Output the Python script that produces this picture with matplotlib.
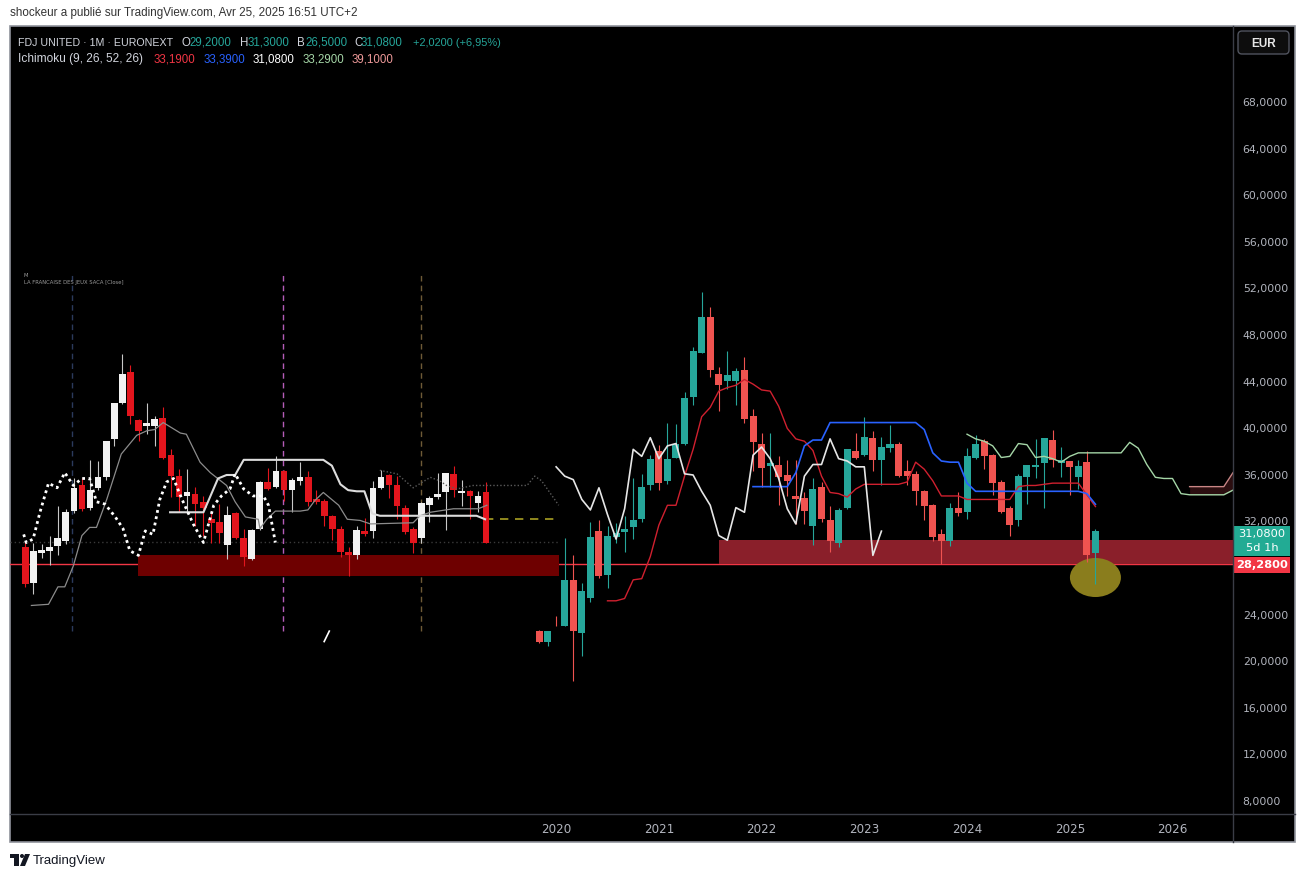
import numpy as np
import matplotlib.pyplot as plt
from matplotlib.patches import Rectangle, Ellipse, FancyBboxPatch, Polygon, Circle
from matplotlib.transforms import blended_transform_factory
from matplotlib.ticker import FuncFormatter

W, H = 1305, 879

# ---- FDJ UNITED monthly bars, month 0 = Nov 2019 ----
fdj_open = [22.5, 21.6, np.nan, 22.9, 26.9, 22.3, 25.3, 31.1, 27.3, 30.6,
            31.0, 31.4, 32.1, 35.0, 38.0, 35.4, 37.4, 38.6, 42.6, 46.4,
            49.5, 44.6, 44.0, 44.0, 44.9, 41.0, 38.6, 36.7, 36.8, 35.9,
            34.1, 33.9, 31.5, 34.9, 32.0, 30.1, 33.1, 38.0, 37.6, 39.1,
            37.2, 38.2, 38.6, 36.2, 36.0, 34.5, 33.3, 30.8, 30.2, 33.1,
            32.7, 37.4, 38.8, 37.6, 35.3, 33.1, 32.0, 35.7, 36.6, 36.9,
            38.9, 36.9, 37.1, 35.7, 37.0, 29.2]
fdj_high = [22.6, 22.5, 23.8, 30.5, 29.0, 26.6, 31.9, 32.0, 31.5, 31.8,
            32.4, 35.6, 36.0, 37.6, 38.5, 40.4, 40.3, 43.0, 46.9, 51.6,
            50.3, 45.2, 46.5, 45.1, 46.0, 41.6, 39.5, 39.5, 37.5, 37.2,
            37.2, 34.4, 35.6, 35.3, 33.2, 33.1, 38.1, 39.5, 40.9, 39.7,
            39.2, 40.2, 38.7, 37.2, 36.2, 34.6, 33.4, 31.3, 33.5, 34.4,
            38.2, 39.3, 39.0, 37.7, 35.5, 33.2, 36.0, 36.8, 39.0, 39.1,
            39.8, 38.3, 37.1, 37.2, 38.0, 31.3]
fdj_low = [21.5, 21.2, 22.9, 22.9, 18.2, 20.4, 25.0, 27.1, 26.2, 30.1,
           29.3, 30.4, 31.9, 34.6, 34.6, 35.1, 37.4, 38.5, 41.9, 46.4,
           44.3, 41.4, 43.3, 41.9, 40.4, 36.2, 34.9, 34.9, 33.3, 34.1,
           31.7, 31.7, 29.9, 31.9, 29.3, 29.7, 33.0, 37.3, 37.5, 36.2,
           35.0, 37.9, 35.7, 35.0, 33.3, 32.0, 30.2, 28.3, 29.8, 32.4,
           32.1, 37.3, 36.4, 34.2, 32.6, 30.7, 31.5, 33.4, 35.6, 33.1,
           36.6, 35.7, 34.2, 34.7, 28.4, 26.5]
fdj_close = [21.6, 22.5, np.nan, 26.9, 22.5, 25.9, 30.6, 27.2, 30.7, 30.9,
             31.3, 32.0, 34.9, 37.3, 35.2, 37.3, 38.6, 42.5, 46.5, 49.5,
             44.9, 43.6, 44.5, 44.8, 40.7, 38.7, 36.5, 36.9, 35.7, 35.4,
             33.8, 32.8, 34.7, 32.1, 30.2, 32.9, 38.1, 37.4, 39.2, 37.2,
             38.3, 38.6, 35.8, 35.8, 34.5, 33.2, 30.6, 30.2, 33.1, 32.6,
             37.5, 38.6, 37.5, 35.2, 32.7, 31.6, 35.8, 36.8, 36.8, 39.1,
             37.2, 37.2, 36.6, 36.7, 29.06, 31.08]

# ---- Ichimoku ----
conv_start = 8
conv_line = [25.1, 25.1, 25.3, 26.9, 27.0, 28.9, 31.6, 33.3, 33.3, 35.8,
             38.1, 40.9, 41.7, 43.1, 43.4, 43.6, 44.1, 43.7, 43.2, 43.1,
             41.8, 39.9, 39.0, 38.8, 38.0, 35.8, 34.4, 34.3, 34.0, 34.7,
             35.1, 35.1, 35.1, 35.1, 35.1, 35.3, 37.0, 36.4, 35.4, 34.1,
             34.1, 34.1, 33.8, 33.8, 33.8, 33.8, 33.8, 33.8, 34.9, 35.0,
             35.0, 35.1, 35.2, 35.2, 35.2, 35.2, 34.2, 33.19]
base_start = 25
base_line = [34.9, 34.9, 34.9, 34.9, 34.9, 36.1, 38.4, 38.9, 38.9, 40.4,
             40.4, 40.4, 40.4, 40.4, 40.4, 40.4, 40.4, 40.4, 40.4, 40.4,
             39.8, 37.8, 37.1, 37.0, 37.0, 35.2, 34.5, 34.5, 34.5, 34.5,
             34.5, 34.5, 34.5, 34.5, 34.5, 34.5, 34.5, 34.5, 34.5, 34.3,
             33.39]
lag_start = 2
lag_line = [36.6, 35.8, 35.5, 33.8, 32.9, 34.8, 32.5, 30.4, 33.0, 38.1,
            37.5, 39.1, 37.3, 38.4, 38.6, 36.0, 35.9, 34.5, 33.3, 30.7,
            30.3, 33.1, 32.7, 37.6, 38.3, 37.3, 35.6, 33.0, 31.7, 35.8,
            36.8, 36.8, 39.0, 37.3, 37.1, 36.6, 36.6, 29.0, 31.08]
span_a_m = [50, 51, 52, 53, 54, 55, 56, 57, 58, 59, 60, 61, 62, 63, 68,
            69, 70, 71, 72, 73, 74, 75, 76, 80, 81.07]
span_a = [39.4, 39.0, 38.8, 38.4, 37.4, 37.5, 38.6, 38.5, 37.4, 37.5, 37.3,
          37.0, 37.5, 37.8, 37.8, 38.7, 38.2, 36.8, 35.7, 35.6, 35.6, 34.3,
          34.2, 34.2, 34.6]
span_b_m = [76, 80, 81.07]
span_b = [34.9, 34.9, 36.1]
span_a_under_b = [34.2, 34.2, 34.6]

# ---- "LA FRANCAISE DES JEUX SACA" bars pattern on the left ----
pat_open = [29.7, 26.6, 29.2, 29.4, 29.8, 30.2, 32.8, 35.0, 33.1, 34.8,
            35.7, 39.0, 42.1, 44.7, 40.6, 40.1, 40.1, 40.8, 37.6, 35.8,
            34.1, 34.3, 33.6, 32.1, 31.9, 29.9, 32.6, 30.5, 28.7, 31.3,
            35.3, 34.9, 36.2, 34.6, 35.4, 35.7, 33.8, 33.7, 32.4, 31.3,
            29.3, 29.0, 31.1, 31.1, 34.8, 35.9, 35.0, 33.1, 31.3, 30.5,
            33.3, 34.0, 34.4, 36.0, 34.35, 34.5, 33.5, 34.4]
pat_high = [30.2, 30.1, 30.0, 30.7, 33.2, 33.0, 35.6, 35.6, 37.2, 37.1,
            38.8, 42.1, 46.3, 45.3, 40.7, 42.1, 41.0, 41.7, 38.1, 36.4,
            36.4, 34.9, 34.1, 32.7, 33.4, 33.2, 32.7, 31.3, 31.3, 35.4,
            36.5, 37.5, 36.3, 35.6, 37.0, 36.2, 34.6, 33.8, 32.5, 31.5,
            29.7, 31.5, 32.2, 35.4, 36.3, 36.0, 35.8, 33.3, 31.4, 33.6,
            34.1, 36.1, 36.1, 36.7, 35.5, 34.6, 34.5, 35.3]
pat_low = [26.3, 25.7, 28.8, 28.2, 29.0, 30.0, 32.6, 32.8, 32.9, 34.6,
           35.5, 38.4, 42.0, 40.3, 38.8, 39.4, 38.4, 37.3, 34.0, 32.7,
           32.7, 31.5, 30.7, 30.1, 30.1, 28.7, 30.4, 28.1, 28.6, 31.2,
           34.6, 34.8, 33.7, 32.7, 35.0, 33.2, 33.4, 31.5, 30.3, 28.9,
           27.2, 28.7, 30.7, 30.5, 34.7, 33.9, 32.1, 30.8, 29.2, 30.1,
           31.9, 33.8, 31.2, 34.0, 33.2, 32.1, 32.7, 30.1]
pat_close = [26.5, 29.4, 29.5, 29.7, 30.5, 32.7, 34.8, 33.0, 34.6, 35.7,
             38.8, 42.1, 44.6, 41.0, 39.7, 40.4, 40.7, 37.4, 35.8, 34.0,
             34.4, 33.4, 33.1, 31.8, 30.9, 32.5, 30.5, 28.9, 31.2, 35.3,
             34.7, 36.2, 34.6, 35.5, 35.7, 33.6, 33.6, 32.4, 31.3, 29.3,
             29.0, 31.2, 30.8, 34.8, 35.7, 35.0, 33.2, 31.0, 30.1, 33.5,
             33.9, 34.3, 36.1, 34.6, 34.45, 34.1, 34.1, 30.1]

# lines drawn over the pattern (month, price)
gray_m = [-59.3, -57.3, -56.2, -55.4, -54.4, -53.4, -52.5, -51.7, -50.5, -48.8,
          -47.0, -45.8, -44.9, -43.9, -41.9, -41.2, -39.6, -38.4, -36.5, -35.5,
          -34.3, -32.8, -32.6, -31.8, -30.8, -27.9, -27.0, -26.2, -25.2, -23.4,
          -22.4, -20.9, -19.7, -14.7, -13.9, -12.7, -10.0, -7.1, -6.1]
gray_p = [24.7, 24.8, 26.3, 26.3, 28.1, 30.7, 31.4, 31.4, 33.8, 37.7,
          39.3, 39.7, 39.8, 40.4, 39.5, 39.4, 37.0, 36.1, 35.0, 33.6,
          32.3, 32.1, 31.3, 32.1, 32.8, 32.8, 32.9, 33.7, 34.4, 33.3,
          32.1, 32.0, 31.7, 31.8, 32.4, 32.7, 33.0, 33.0, 33.3]
dots_m = [-60.2, -59.9, -59.1, -58.3, -57.3, -56.3, -55.4, -54.4, -53.4, -52.5,
          -51.7, -50.7, -49.5, -48.6, -47.8, -46.8, -46.0, -45.1, -44.3, -43.5,
          -42.7, -41.7, -40.4, -39.2, -38.0, -37.1, -36.1, -35.5, -34.5, -33.4,
          -32.2, -31.6, -30.8]
dots_p = [30.8, 30.1, 30.4, 32.7, 35.2, 34.8, 36.1, 35.0, 35.6, 35.6,
          33.6, 33.4, 32.3, 31.3, 29.4, 29.0, 31.1, 30.8, 33.8, 35.3,
          35.6, 33.8, 31.7, 30.1, 33.3, 34.1, 34.7, 36.0, 34.7, 34.1,
          34.1, 33.3, 30.1]
white_m = [-43.1, -39.2, -37.5, -36.5, -35.5, -34.5, -27.9, -25.2, -24.2, -23.2,
           -22.3, -21.3, -20.4, -19.5, -18.6, -7.3, -6.3]
white_p = [32.7, 32.7, 35.6, 35.9, 35.9, 37.2, 37.2, 37.2, 36.7, 35.1,
           34.6, 34.5, 34.5, 32.6, 32.4, 32.4, 32.1]
dark_m = [-18.6, -16.6, -14.7, -12.7, -11.6, -10.8, -9.6, -7.7, -5.7, -1.4,
          -0.5, 0.3, 2.3]
dark_p = [36.3, 36.0, 34.8, 35.7, 35.4, 35.0, 34.7, 35.0, 35.0, 35.0,
          35.8, 35.4, 33.3]
vline_m = [-54.5, -29.9, -13.75]
vline_colors = ['#2b3a5c', '#b45cb8', '#6e5a36']

support_price = 28.28
zone_left = (-46.9, 2.35, 27.2, 29.0)     # m0, m1, low, high
zone_right = (21.0, 81.07, 28.28, 30.35)
yellow_level = 32.1
faint_level = 30.15

UP, DOWN = '#26a69a', '#ef5350'
PAT_UP, PAT_DOWN = '#f2f2f2', '#e3151d'
GRAY_TXT = '#b2b5be'
SANS = 'Liberation Sans'


def draw_candles(ax, x, o, h, l, c, up, down, wup, wdown, width):
    o, h, l, c = (np.asarray(v, dtype=float) for v in (o, h, l, c))
    rising = c >= o
    ax.vlines(x, l, h, colors=np.where(rising, wup, wdown), lw=0.8, zorder=4)
    ok = ~np.isnan(o)
    bottom = np.minimum(o, c)[ok]
    height = np.maximum(np.abs(c - o), 0.15)[ok]
    ax.bar(np.asarray(x)[ok], height, width, bottom,
           color=np.where(rising, up, down)[ok], linewidth=0, zorder=5)


fig = plt.figure(figsize=(W / 100, H / 100), dpi=100)
fig.patch.set_facecolor('white')

bg = fig.add_axes([0, 0, 1, 1], zorder=-5)
bg.set_xlim(0, W)
bg.set_ylim(H, 0)
bg.axis('off')
bg.add_patch(Rectangle((10, 27), 1285, 816, facecolor='black',
                       edgecolor='#8f929b', lw=1.2))

ax = fig.add_axes([10 / W, 1 - 815 / H, 1223 / W, 788 / H])
ax.set_facecolor('none')
ax.set_xlim(-61.8, 81.07)
ax.set_ylim(6.80, 74.44)
for s in ax.spines.values():
    s.set_visible(False)

# price axis (28 is hidden behind the red tag in the reference)
ax.yaxis.tick_right()
ax.set_yticks([8, 12, 16, 20, 24, 32, 36, 40, 44, 48, 52, 56, 60, 64, 68])
ax.yaxis.set_major_formatter(FuncFormatter(lambda v, p: f"{v:.4f}".replace('.', ',')))
ax.tick_params(axis='y', length=0, pad=7, labelsize=7.8, labelcolor=GRAY_TXT)
# time axis
ax.set_xticks([2, 14, 26, 38, 50, 62, 74])
ax.set_xticklabels(['2020', '2021', '2022', '2023', '2024', '2025', '2026'])
ax.tick_params(axis='x', length=0, pad=6, labelsize=8.6, labelcolor=GRAY_TXT)

# background drawings
ax.axhline(support_price, color='#f23645', lw=1, zorder=1.5)
ax.hlines(faint_level, -61.8, 2.2, color='#3a3a3a', lw=1, linestyle=(0, (1, 2)), zorder=1)
ax.vlines(vline_m, 22.5, 53.2, colors=vline_colors, lw=1, linestyle=(0, (4, 3)), zorder=1)
ax.add_patch(Rectangle((zone_left[0], zone_left[2]), zone_left[1] - zone_left[0],
                       zone_left[3] - zone_left[2], color='#6e0000', lw=0, zorder=2))
ax.add_patch(Rectangle((zone_right[0], zone_right[2]), zone_right[1] - zone_right[0],
                       zone_right[3] - zone_right[2], color='#8a1f2a', lw=0, zorder=2))
ax.add_patch(Ellipse((65.0, 27.1), 5.96, 3.35, color='#8a7d1d', lw=0, zorder=2.5))
ax.hlines(yellow_level, -6.3, 2.1, color='#a89f23', lw=1.2, linestyle=(0, (5, 4)), zorder=3)
ax.plot([-25.1, -24.5], [21.6, 22.5], color='white', lw=1.2, zorder=3)

# pattern bars and its lines
pat_x = -60.0 + 0.944 * np.arange(len(pat_open))
draw_candles(ax, pat_x, pat_open, pat_high, pat_low, pat_close,
             PAT_UP, PAT_DOWN, '#c8c8c8', PAT_DOWN, 0.78)
ax.plot(gray_m, gray_p, color='#8c8c8c', lw=0.9, zorder=6)
ax.plot(white_m, white_p, color='#dcdcdc', lw=1.5, zorder=6)
ax.plot(dots_m, dots_p, color='white', lw=2, linestyle=(0, (1, 1.3)), zorder=6)
ax.plot(dark_m, dark_p, color='#5a5a5a', lw=1, linestyle=(0, (1, 1.5)), zorder=6)

# FDJ bars
m = np.arange(len(fdj_open))
draw_candles(ax, m, fdj_open, fdj_high, fdj_low, fdj_close, UP, DOWN, UP, DOWN, 0.82)

# Ichimoku
ax.fill_between(span_b_m, span_a_under_b, span_b, color='#2b0e10', lw=0, zorder=3)
ax.plot(span_b_m, span_b, color='#c98585', lw=1, zorder=6)
ax.plot(span_a_m, span_a, color='#a5d6a7', lw=1, zorder=6)
ax.plot(conv_start + np.arange(len(conv_line)), conv_line, color='#d0202f', lw=1, zorder=6)
ax.plot(base_start + np.arange(len(base_line)), base_line, color='#2962ff', lw=1.2, zorder=6)
ax.plot(lag_start + np.arange(len(lag_line)), lag_line, color='#e6e6e6', lw=1.2, zorder=6)

# price tags
tr = blended_transform_factory(ax.transAxes, ax.transData)
ax.add_patch(Rectangle((1.0008, 28.94), 0.0458, 2.58, transform=tr, color='#22ab94',
                       lw=0, clip_on=False, zorder=8))
ax.text(1.0237, 30.95, '31,0800', transform=tr, ha='center', va='center', color='white',
        fontsize=8.2, clip_on=False, zorder=9)
ax.text(1.0237, 29.75, '5d 1h', transform=tr, ha='center', va='center', color='white',
        fontsize=8.2, clip_on=False, zorder=9)
ax.add_patch(Rectangle((1.0008, 27.49), 0.0458, 1.37, transform=tr, color='#f23645',
                       lw=0, clip_on=False, zorder=8))
ax.text(1.0237, support_price, '28,2800', transform=tr, ha='center', va='center',
        color='white', fontsize=8.2, fontweight='bold', clip_on=False, zorder=9)

# overlay: frame dividers, headers, footer
ov = fig.add_axes([0, 0, 1, 1], zorder=10)
ov.set_xlim(0, W)
ov.set_ylim(H, 0)
ov.axis('off')
ov.patch.set_alpha(0)
ov.plot([1233, 1233], [27, 843], color='#3a3d46', lw=1)
ov.plot([10, 1295], [815, 815], color='#3a3d46', lw=1)

ov.add_patch(FancyBboxPatch((1238, 32), 51, 23, boxstyle='round,pad=0,rounding_size=4',
                            facecolor='#0d0d0d', edgecolor='#50535e', lw=1))
ov.text(1263.5, 44, 'EUR', ha='center', va='center', color='#e6e6e6', fontsize=8.5,
        fontweight='bold', family=SANS)

ov.text(10, 13, 'shockeur a publié sur TradingView.com, Avr 25, 2025 16:51 UTC+2',
        ha='left', va='center', color='#333333', fontsize=8.4, family=SANS)

# legend rows: (x, text, colour, size)
legend1 = [(18, 'FDJ UNITED · 1M · EURONEXT', '#d1d4dc', 7.7), (181, 'O', '#d1d4dc', 8.3),
           (189, '29,2000', UP, 8.3), (240, 'H', '#d1d4dc', 8.3), (248, '31,3000', UP, 8.3),
           (297, 'B', '#d1d4dc', 8.3), (305, '26,5000', UP, 8.3), (354, 'C', '#d1d4dc', 8.3),
           (361, '31,0800', UP, 8.3), (413, '+2,0200 (+6,95%)', UP, 7.9)]
legend2 = [(18, 'Ichimoku (9, 26, 52, 26)', '#d1d4dc', 8.6), (154, '33,1900', '#f23645', 8.3),
           (204, '33,3900', '#2962ff', 8.3), (253, '31,0800', '#ffffff', 8.3),
           (303, '33,2900', '#a5d6a7', 8.3), (352, '39,1000', '#ef9a9a', 8.3)]
for x, s, c, fs in legend1:
    ov.text(x, 42.5, s, ha='left', va='center', color=c, fontsize=fs, family=SANS)
for x, s, c, fs in legend2:
    ov.text(x, 59, s, ha='left', va='center', color=c, fontsize=fs, family=SANS)

ov.text(24, 276, 'M', ha='left', va='center', color='#9a9a9a', fontsize=3.8)
ov.text(24, 283, 'LA FRANCAISE DES JEUX SACA [Close]', ha='left', va='center',
        color='#9a9a9a', fontsize=3.8)

# TradingView logo + name
ov.add_patch(Rectangle((10, 855), 9, 4, color='#131722', lw=0))
ov.add_patch(Rectangle((14, 855), 5, 12, color='#131722', lw=0))
ov.add_patch(Circle((22, 857), 2, color='#131722', lw=0))
ov.add_patch(Polygon([(25, 855), (30, 855), (25, 867), (20, 867)], closed=True,
                     color='#131722', lw=0))
ov.text(33, 861, 'TradingView', ha='left', va='center', color='#131722', fontsize=9.5,
        family=SANS)

fig.savefig('out.png', dpi=100, facecolor='white')
